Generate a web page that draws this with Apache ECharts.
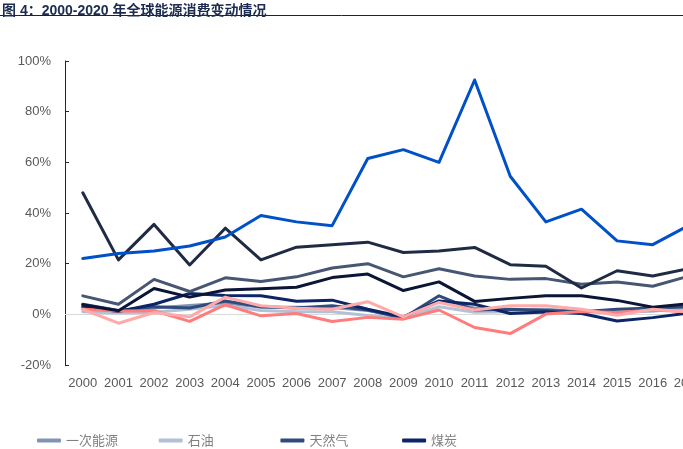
<!DOCTYPE html>
<html>
<head>
<meta charset="utf-8">
<script src="https://cdn.jsdelivr.net/npm/echarts@6/dist/echarts.min.js"></script>
<style>
html,body{margin:0;padding:0;background:#fff;}
#main{width:683px;height:449px;}
</style>
</head>
<body>
<div id="main"></div>
<script>
var titleText = '图 4：2000-2020 年全球能源消费变动情况';
var years = ['2000','2001','2002','2003','2004','2005','2006','2007','2008','2009','2010','2011','2012','2013','2014','2015','2016','2017','2018','2019','2020'];
var yTicks = [-20, 0, 20, 40, 60, 80, 100];

// values in % (2018-2020 not visible -> null)
var primaryEnergy = [2.8, 1.0, 2.5, 3.5, 4.5, 2.8, 2.8, 2.7, 1.5, -1.2, 5.0, 2.5, 1.7, 2.0, 1.0, 1.0, 1.3, 2.2, null, null, null];
var oil           = [1.0, 0.5, 0.8, 2.0, 3.5, 1.5, 1.0, 1.0, -0.5, -1.5, 3.0, 0.8, 1.0, 1.2, 0.8, 1.8, 1.6, 1.8, null, null, null];
var gas           = [4.0, 1.5, 3.0, 2.5, 5.3, 3.0, 2.5, 3.4, 1.7, -1.5, 7.3, 1.7, 2.0, 1.5, 1.0, 2.0, 2.5, 3.0, null, null, null];
var coal          = [3.0, 1.1, 4.0, 8.2, 7.4, 7.3, 5.2, 5.6, 2.0, -1.0, 5.3, 4.0, 0.3, 0.9, 0.3, -2.6, -1.3, 0.5, null, null, null];
var nuclear       = [2.0, 1.3, 1.4, -2.8, 3.8, -0.6, 0.3, -2.8, -1.2, -1.9, 1.7, -5.2, -7.6, 0.1, 1.1, 0.7, 1.7, 1.0, null, null, null];
var hydro         = [2.0, -3.5, 0.7, -1.0, 6.8, 3.4, 2.4, 2.0, 5.0, -1.0, 4.7, 1.7, 3.4, 3.4, 2.0, -0.4, 2.0, 1.0, null, null, null];
var renewables    = [7.3, 4.0, 13.8, 9.0, 14.4, 13.0, 14.8, 18.3, 20.0, 14.8, 18.0, 15.1, 13.8, 14.1, 11.9, 12.8, 11.1, 15.0, null, null, null];
var otherRenew    = [3.8, 1.4, 10.2, 6.8, 9.6, 10.1, 10.7, 14.5, 15.9, 9.4, 12.8, 5.1, 6.3, 7.3, 7.3, 5.5, 2.8, 4.2, null, null, null];
var wind          = [48.0, 21.5, 35.5, 19.5, 34.0, 21.5, 26.5, 27.5, 28.5, 24.4, 25.0, 26.4, 19.6, 19.0, 10.4, 17.2, 15.1, 18.0, null, null, null];
var solar         = [22.0, 24.0, 25.0, 27.0, 30.5, 39.0, 36.5, 35.0, 61.5, 65.0, 60.0, 92.5, 54.5, 36.5, 41.5, 29.0, 27.5, 35.0, null, null, null];

var seriesDefs = [
  {name:'一次能源', data: primaryEnergy, color:'#8094b4'},
  {name:'石油', data: oil, color:'#b3c0d6'},
  {name:'天然气', data: gas, color:'#2f4b7c'},
  {name:'煤炭', data: coal, color:'#0b2566'},
  {name:'核能', data: nuclear, color:'#ff7c7c'},
  {name:'其他可再生能源', data: otherRenew, color:'#0b1636'},
  {name:'可再生能源', data: renewables, color:'#475673'},
  {name:'风能', data: wind, color:'#1f2a44'},
  {name:'水电', data: hydro, color:'#ffaaaa'},
  {name:'太阳能', data: solar, color:'#0050c8'}
];
// legend rows: 4 per row (only the first row falls inside the picture)
var legendRows = [
  ['一次能源','石油','天然气','煤炭'],
  ['核能','水电','可再生能源','风能'],
  ['太阳能','其他可再生能源']
];

var chart = echarts.init(document.getElementById('main'), null, {renderer:'canvas'});
var series = seriesDefs.map(function(s, i){
  var o = {
    name: s.name, type:'line', data: s.data, symbol:'none', smooth:false,
    connectNulls:false, z: 2 + i,
    lineStyle:{color:s.color, width:3, cap:'round', join:'round'},
    itemStyle:{color:s.color}
  };
  if (i === 0) {
    o.markLine = {silent:true, symbol:'none', label:{show:false},
      lineStyle:{color:'#d9d9d9', width:1, type:'solid'}, data:[{yAxis:0}], z:1};
  }
  return o;
});

var legends = [];
legendRows.forEach(function(row, r){
  row.forEach(function(name, c){
    legends.push({
      data:[name], left: 32 + c*121.7, top: 429 + r*22,
      icon:'roundRect', itemWidth:24, itemHeight:4,
      textStyle:{fontSize:13, color:'#808080', fontFamily:'"Noto Sans CJK SC", sans-serif'}
    });
  });
});

chart.setOption({
  animation:false,
  textStyle:{fontFamily:'"Liberation Sans", "Noto Sans CJK SC", sans-serif'},
  title:{
    text:titleText, left:-3, top:-1,
    textStyle:{fontSize:14, fontWeight:'bold', color:'#1c2b4f', fontFamily:'"Liberation Sans", "Noto Sans CJK SC", sans-serif'}
  },
  graphic:[{type:'line', shape:{x1:0, y1:15.5, x2:683, y2:15.5}, style:{stroke:'#222', lineWidth:1}, silent:true}],
  grid:{left:65, top:61, height:304, width:748, containLabel:false, outerBoundsMode:'none'},
  legend: legends,
  xAxis:{
    type:'category', data: years, boundaryGap:true,
    axisLine:{show:false}, axisTick:{show:false},
    axisLabel:{interval:0, color:'#595959', fontSize:13, margin:12}
  },
  yAxis:{
    type:'value', min:yTicks[0], max:yTicks[yTicks.length-1], interval:20,
    axisLine:{show:true, lineStyle:{color:'#262626', width:1}},
    axisTick:{show:true, inside:true, length:4, lineStyle:{color:'#262626'}},
    splitLine:{show:false},
    axisLabel:{color:'#595959', fontSize:13, margin:14, formatter:function(v){return v+'%';}}
  },
  series: series
});
</script>
</body>
</html>
